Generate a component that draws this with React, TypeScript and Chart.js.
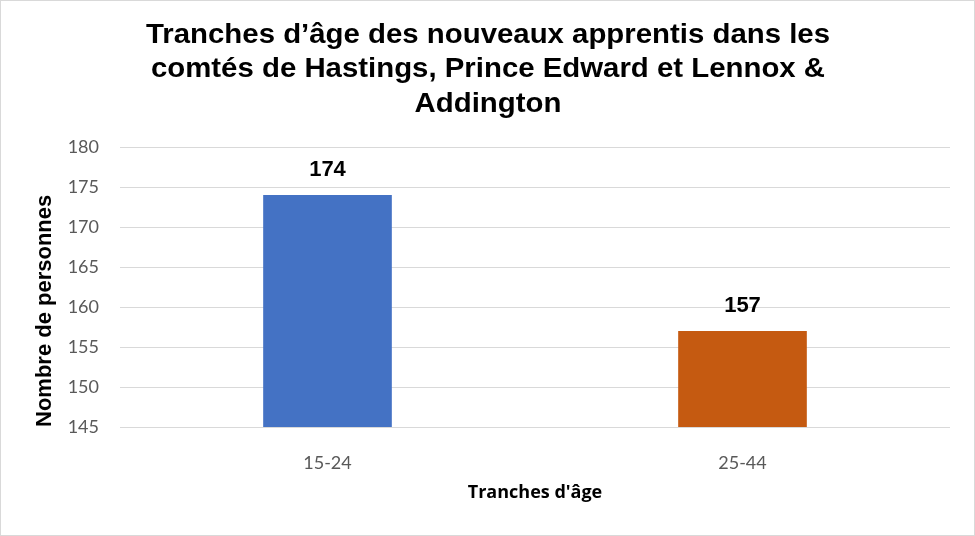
import React, { useEffect, useRef } from "react";
import { Chart, registerables } from "chart.js";

Chart.register(...registerables);

const titleLines = [
  "Tranches d’âge des nouveaux apprentis dans les",
  "comtés de Hastings, Prince Edward et Lennox &",
  "Addington",
];
const categories = ["15-24", "25-44"];
const values = [174, 157];
const barColors = ["#4472C4", "#C55A11"];
const yTitle = "Nombre de personnes";
const xTitle = "Tranches d'âge";
const yMin = 145;
const yMax = 180;
const yStep = 5;

const valueLabels = {
  id: "valueLabels",
  afterDatasetsDraw(chart: any) {
    const ctx = chart.ctx;
    const meta = chart.getDatasetMeta(0);
    ctx.save();
    ctx.font = "bold 22px 'Liberation Sans', Arial, sans-serif";
    ctx.fillStyle = "#000000";
    ctx.textAlign = "center";
    ctx.textBaseline = "middle";
    meta.data.forEach((bar: any, i: number) => {
      ctx.fillText(String(chart.data.datasets[0].data[i]), bar.x, bar.y - 25);
    });
    ctx.restore();
  },
};

const titleDraw = {
  id: "titleDraw",
  afterDraw(chart: any) {
    const ctx = chart.ctx;
    ctx.save();
    ctx.font = "bold 28px 'Liberation Sans', Arial, sans-serif";
    ctx.fillStyle = "#000000";
    ctx.textAlign = "center";
    ctx.textBaseline = "alphabetic";
    const w0 = ctx.measureText(titleLines[0]).width;
    const sx = 684 / w0;
    const cx = 487;
    const baselines = [41.5, 76, 110.5];
    titleLines.forEach((line, i) => {
      ctx.save();
      ctx.translate(cx, baselines[i]);
      ctx.scale(sx, 1);
      ctx.fillText(line, 0, 0);
      ctx.restore();
    });
    ctx.restore();
  },
};

export default function App() {
  const ref = useRef<HTMLCanvasElement | null>(null);
  useEffect(() => {
    document.body.style.margin = "0";
    const chart = new Chart(ref.current!, {
      type: "bar",
      data: {
        labels: categories,
        datasets: [
          {
            data: values,
            backgroundColor: barColors,
            barPercentage: 0.31,
            categoryPercentage: 1,
          },
        ],
      },
      options: {
        animation: false,
        responsive: true,
        maintainAspectRatio: false,
        layout: { padding: { left: 0, right: 24, top: 146, bottom: 0 } },
        plugins: {
          legend: { display: false },
          tooltip: { enabled: false },
          title: { display: false },
        },
        scales: {
          x: {
            grid: { display: false },
            border: { display: false },
            ticks: {
              color: "#595959",
              padding: 17,
              font: { family: "Lato, 'Liberation Sans', sans-serif", size: 18 },
            },
            title: {
              display: true,
              text: xTitle,
              color: "#000000",
              font: { family: "'Open Sans', 'Liberation Sans', sans-serif", size: 18, weight: "bold" },
              padding: { top: 0, bottom: 31 },
            },
            afterFit(scale: any) {
              scale.height = 108;
            },
          },
          y: {
            min: yMin,
            max: yMax,
            grid: { color: "#d9d9d9", drawTicks: false, lineWidth: 1 },
            border: { display: false },
            ticks: {
              stepSize: yStep,
              color: "#595959",
              padding: 21,
              font: { family: "Lato, 'Liberation Sans', sans-serif", size: 18 },
            },
            title: {
              display: true,
              text: yTitle,
              align: "start",
              color: "#000000",
              font: { family: "'Liberation Sans', Arial, sans-serif", size: 22, weight: "bold" },
              padding: { top: 31, bottom: 0 },
            },
            afterFit(scale: any) {
              scale.width = 119;
            },
          },
        },
      },
      plugins: [valueLabels, titleDraw],
    });
    return () => chart.destroy();
  }, []);
  return (
    <div
      style={{
        position: "fixed",
        left: 0,
        top: 0,
        width: 975,
        height: 536,
        boxSizing: "border-box",
        border: "1px solid #d9d9d9",
        background: "#ffffff",
      }}
    >
      <canvas ref={ref} />
    </div>
  );
}
